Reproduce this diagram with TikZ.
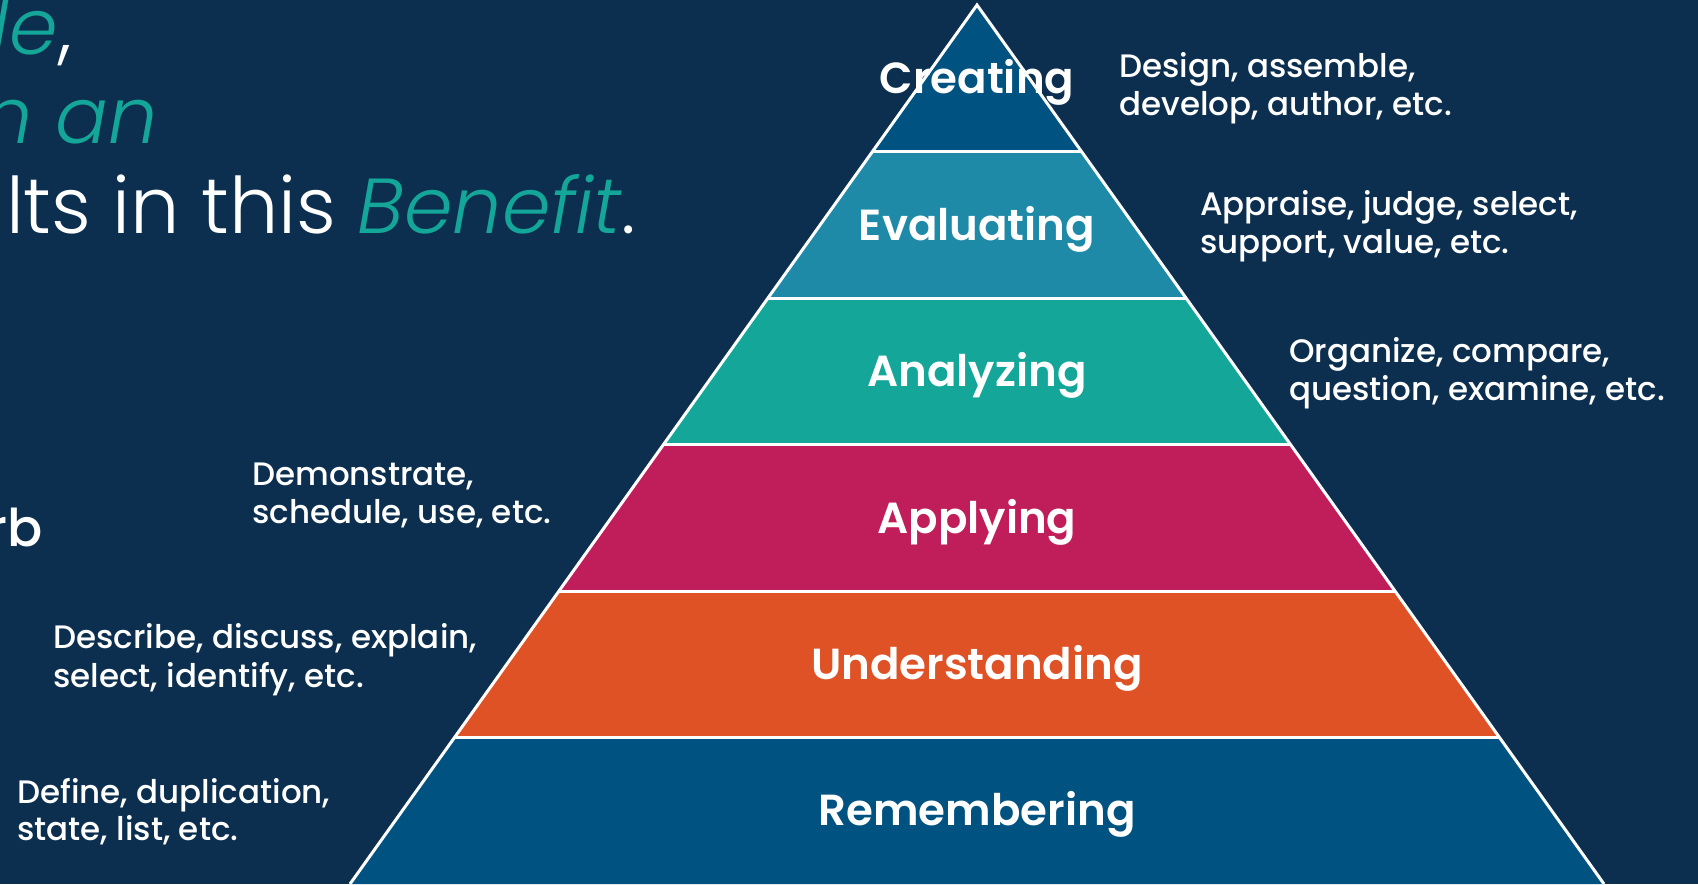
\documentclass[tikz,border=0pt]{standalone}
\usepackage{fontspec}
\setmainfont{Poppins}
\newfontfamily\fsemi{Poppins SemiBold}
\newfontfamily\fmed{Poppins Medium}
\newfontfamily\flight{Poppins Light}
\usetikzlibrary{calc}
\definecolor{bg}{HTML}{0C2F4F}
\definecolor{cCreate}{HTML}{005280}
\definecolor{cEval}{HTML}{1E8AA8}
\definecolor{cAnal}{HTML}{13A699}
\definecolor{cApply}{HTML}{C01E5A}
\definecolor{cUnder}{HTML}{DE5226}
\definecolor{cRemem}{HTML}{005280}
\definecolor{teal}{HTML}{13A699}
\tikzset{
  layerlabel/.style={anchor=base, inner sep=0pt, text=white, font=\fsemi\fontsize{43.5}{44}\selectfont},
  sidetext/.style={anchor=base west, inner sep=0pt, text=white, font=\fmed\fontsize{32.5}{38}\selectfont},
  titletext/.style={anchor=base east, inner sep=0pt, text=white, font=\flight\fontsize{78}{90}\selectfont},
  edge/.style={draw=white, line width=3pt, line join=miter},
}
\begin{document}
\begin{tikzpicture}[x=1pt,y=-1pt]
\useasboundingbox (0,0) rectangle (1698,884);
\clip (0,0) rectangle (1698,884);
\fill[bg] (0,0) rectangle (1698,884);
% pyramid geometry
\coordinate (apex) at (977,5);
\coordinate (bl) at (350,884);
\coordinate (br) at (1604,884);
\foreach \k in {0,...,6}{
  \coordinate (L\k) at ($(apex)!\k/6!(bl)$);
  \coordinate (R\k) at ($(apex)!\k/6!(br)$);
}
\fill[cCreate] (L0) -- (L1) -- (R1) -- cycle;
\fill[cEval] (L1) -- (L2) -- (R2) -- (R1) -- cycle;
\fill[cAnal] (L2) -- (L3) -- (R3) -- (R2) -- cycle;
\fill[cApply] (L3) -- (L4) -- (R4) -- (R3) -- cycle;
\fill[cUnder] (L4) -- (L5) -- (R5) -- (R4) -- cycle;
\fill[cRemem] (L5) -- (L6) -- (R6) -- (R5) -- cycle;
\foreach \k in {1,...,5}{ \draw[edge] (L\k) -- (R\k); }
\draw[edge] (bl) -- (apex) -- (br);
% layer labels
\node[layerlabel] (creating) at (977,93) {Creating};
\node[layerlabel] (evaluating) at (977,240) {Evaluating};
\node[layerlabel] (analyzing) at (977,386) {Analyzing};
\node[layerlabel] (applying) at (977,533) {Applying};
\node[layerlabel] (understanding) at (977,679) {Understanding};
\node[layerlabel] (remembering) at (977,825) {Remembering};
% side texts
\node[sidetext] (cr1) at (1119,77) {Design, assemble,};
\node[sidetext] (cr2) at (1119,115) {develop, author, etc.};
\node[sidetext] (ev1) at (1200,215) {Appraise, judge, select,};
\node[sidetext] (ev2) at (1200,253) {support, value, etc.};
\node[sidetext] (an1) at (1289,362) {Organize, compare,};
\node[sidetext] (an2) at (1289,400) {question, examine, etc.};
\node[sidetext] (ap1) at (252,485) {Demonstrate,};
\node[sidetext] (ap2) at (252,523) {schedule, use, etc.};
\node[sidetext] (un1) at (53,648) {Describe, discuss, explain,};
\node[sidetext] (un2) at (53,687) {select, identify, etc.};
\node[sidetext] (re1) at (17,803) {Define, duplication,};
\node[sidetext] (re2) at (17,840) {state, list, etc.};
% title fragments
\node[titletext] (t1) at (72,54) {{\color{teal}\itshape le},};
\node[titletext] (t2) at (158,143) {{\color{teal}\itshape n an}};
\node[titletext] (t3) at (636,233) {lts in this {\color{teal}\itshape Benefit}.};
\node[anchor=base east, inner sep=0pt, text=white, font=\fmed\fontsize{52}{52}\selectfont] (verb) at (43,546) {rb};
\end{tikzpicture}
\end{document}
